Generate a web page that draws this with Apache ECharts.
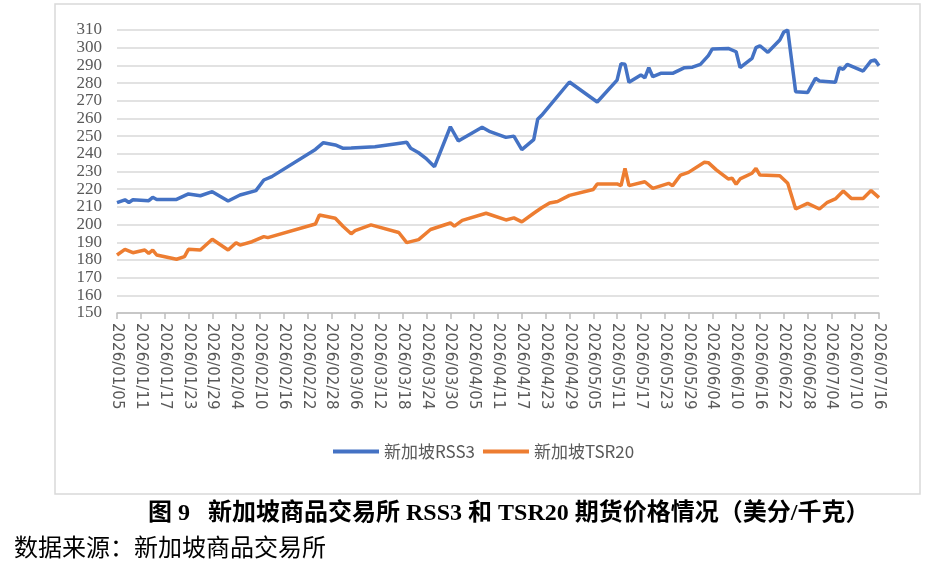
<!DOCTYPE html>
<html>
<head>
<meta charset="utf-8">
<script src="https://cdn.jsdelivr.net/npm/echarts@6/dist/echarts.min.js"></script>
<style>
  html, body { margin: 0; padding: 0; background: #fff; }
  #main { width: 936px; height: 565px; }
</style>
</head>
<body>
<div id="main"></div>
<script>
// 数据（美分/千克）
const firstDay = '2026/01/05';
const lastDay = '2026/07/16';

const rssDates = ['2026/01/05','2026/01/07','2026/01/08','2026/01/09','2026/01/13','2026/01/14','2026/01/15','2026/01/20','2026/01/23','2026/01/26','2026/01/29',
  '2026/02/02','2026/02/05','2026/02/09','2026/02/11','2026/02/13','2026/02/24','2026/02/26',
  '2026/03/01','2026/03/03','2026/03/05','2026/03/11','2026/03/16','2026/03/19','2026/03/20','2026/03/22','2026/03/24','2026/03/26','2026/03/30',
  '2026/04/01','2026/04/07','2026/04/09','2026/04/13','2026/04/15','2026/04/17','2026/04/20','2026/04/21','2026/04/22','2026/04/29',
  '2026/05/06','2026/05/11','2026/05/12','2026/05/13','2026/05/14','2026/05/17','2026/05/18','2026/05/19','2026/05/20','2026/05/22','2026/05/25','2026/05/28','2026/05/30',
  '2026/06/01','2026/06/03','2026/06/04','2026/06/08','2026/06/10','2026/06/11','2026/06/14','2026/06/15','2026/06/16','2026/06/18','2026/06/21','2026/06/22','2026/06/23','2026/06/25','2026/06/28','2026/06/30',
  '2026/07/01','2026/07/05','2026/07/06','2026/07/07','2026/07/08','2026/07/12','2026/07/14','2026/07/15','2026/07/16'];
const rssValues = [212.4,214,212.5,214,213.5,215.4,214.2,214.2,217.3,216.3,218.6,
  213.3,216.7,219.2,225.2,227.1,242.5,246.3,
  245,243.1,243.3,244,245.6,246.5,243.1,240.6,237.1,232.7,255.3,
  247.3,255,252.5,249.3,250,242.4,248,259.5,261.8,280.6,
  269.3,281.7,291,290.6,280.4,284.6,283,288.7,283.6,285.5,285.5,288.7,289,
  290.6,295.5,299.3,299.6,297.7,288.7,294,300,301.1,297.4,304.3,308.8,310,275.1,274.6,282.7,
  281.2,280.4,288.7,287.8,290.6,286.8,292.5,293,289.8];

const tsrDates = ['2026/01/05','2026/01/07','2026/01/09','2026/01/12','2026/01/13','2026/01/14','2026/01/15','2026/01/20','2026/01/22','2026/01/23','2026/01/26','2026/01/29',
  '2026/02/02','2026/02/04','2026/02/05','2026/02/08','2026/02/11','2026/02/12','2026/02/24','2026/02/25',
  '2026/03/01','2026/03/03','2026/03/05','2026/03/06','2026/03/10','2026/03/17','2026/03/19','2026/03/22','2026/03/25','2026/03/30','2026/03/31',
  '2026/04/02','2026/04/08','2026/04/13','2026/04/15','2026/04/17','2026/04/20','2026/04/22','2026/04/24','2026/04/26','2026/04/29',
  '2026/05/05','2026/05/06','2026/05/11','2026/05/12','2026/05/13','2026/05/14','2026/05/18','2026/05/20','2026/05/24','2026/05/25','2026/05/27','2026/05/29',
  '2026/06/02','2026/06/03','2026/06/05','2026/06/08','2026/06/09','2026/06/10','2026/06/11','2026/06/14','2026/06/15','2026/06/16','2026/06/21','2026/06/23','2026/06/25','2026/06/28',
  '2026/07/01','2026/07/03','2026/07/05','2026/07/07','2026/07/09','2026/07/12','2026/07/14','2026/07/16'];
const tsrValues = [182.8,186,184.1,185.6,183.7,185.6,182.8,180.4,181.9,186,185.6,191.7,
  185.6,189.7,188.4,190.3,193.2,192.6,200.3,205.4,
  203.6,198.9,194.8,196.6,199.8,195.5,189.8,191.5,197.2,200.9,199.1,
  202.4,206.4,202.6,203.8,201.5,206.4,209.5,212.2,213,216.5,
  219.8,222.9,223,222,231.8,222,224.2,220.5,223.3,222,228,229.5,
  235.2,235,230.9,225.8,226.2,222.8,225.8,229,231.8,228,227.6,223.3,208.8,212,
  208.8,212.6,214.5,219,214.8,214.8,219.2,215.2];

const seriesNames = ['新加坡RSS3', '新加坡TSR20'];
const seriesColors = ['#4472C4', '#ED7D31'];

// 日期轴（按自然日）
function pad(n) { return n < 10 ? '0' + n : '' + n; }
const days = [];
{
  const p0 = firstDay.split('/').map(Number);
  const p1 = lastDay.split('/').map(Number);
  let t = Date.UTC(p0[0], p0[1] - 1, p0[2]);
  const end = Date.UTC(p1[0], p1[1] - 1, p1[2]);
  while (t <= end) {
    const d = new Date(t);
    days.push(d.getUTCFullYear() + '/' + pad(d.getUTCMonth() + 1) + '/' + pad(d.getUTCDate()));
    t += 86400000;
  }
}

const rssData = rssDates.map((d, i) => [d, rssValues[i]]);
const tsrData = tsrDates.map((d, i) => [d, tsrValues[i]]);

const myChart = echarts.init(document.getElementById('main'));

const option = {
  animation: false,
  backgroundColor: '#fff',
  grid: { left: 117, right: 57, top: 30, bottom: 252 },
  xAxis: {
    type: 'category',
    data: days,
    boundaryGap: false,
    axisLine: { lineStyle: { color: '#bfbfbf', width: 1.5 } },
    axisTick: { interval: 5, length: 6, lineStyle: { color: '#bfbfbf', width: 1.5 } },
    axisLabel: {
      interval: 5,
      rotate: -90,
      margin: 10,
      color: '#595959',
      fontSize: 15,
      fontFamily: 'DejaVu Sans'
    },
    splitLine: { show: false }
  },
  yAxis: {
    type: 'value',
    min: 150,
    max: 310,
    interval: 10,
    axisLine: { show: false },
    axisTick: { show: false },
    axisLabel: {
      margin: 15,
      showMinLabel: true,
      showMaxLabel: true,
      color: '#595959',
      fontSize: 17,
      lineHeight: 17,
      fontFamily: 'Liberation Serif'
    },
    splitLine: { lineStyle: { color: '#d9d9d9', width: 1.5 } }
  },
  legend: {
    left: 328,
    top: 438,
    icon: 'rect',
    itemWidth: 46,
    itemHeight: 4,
    itemGap: 8,
    textStyle: { color: '#595959', fontSize: 17, fontFamily: 'Noto Sans CJK SC' },
    data: seriesNames
  },
  series: [
    {
      name: seriesNames[0],
      type: 'line',
      data: rssData,
      showSymbol: false,
      color: seriesColors[0],
      lineStyle: { width: 3.5, color: seriesColors[0] }
    },
    {
      name: seriesNames[1],
      type: 'line',
      data: tsrData,
      showSymbol: false,
      color: seriesColors[1],
      lineStyle: { width: 3.5, color: seriesColors[1] }
    }
  ],
  graphic: [
    {
      type: 'rect',
      shape: { x: 55, y: 4, width: 865, height: 490 },
      style: { fill: 'none', stroke: '#d9d9d9', lineWidth: 1.5 },
      silent: true
    },
    {
      type: 'text',
      left: 148,
      top: 502,
      style: {
        text: '图 9   新加坡商品交易所 RSS3 和 TSR20 期货价格情况（美分/千克）',
        fill: '#000',
        font: 'bold 24px "Liberation Serif", "Noto Sans CJK SC"'
      }
    },
    {
      type: 'text',
      left: 14,
      top: 535,
      style: {
        text: '数据来源：新加坡商品交易所',
        fill: '#000',
        font: '24px "Noto Sans CJK SC"'
      }
    }
  ]
};

option && myChart.setOption(option);
</script>
</body>
</html>
